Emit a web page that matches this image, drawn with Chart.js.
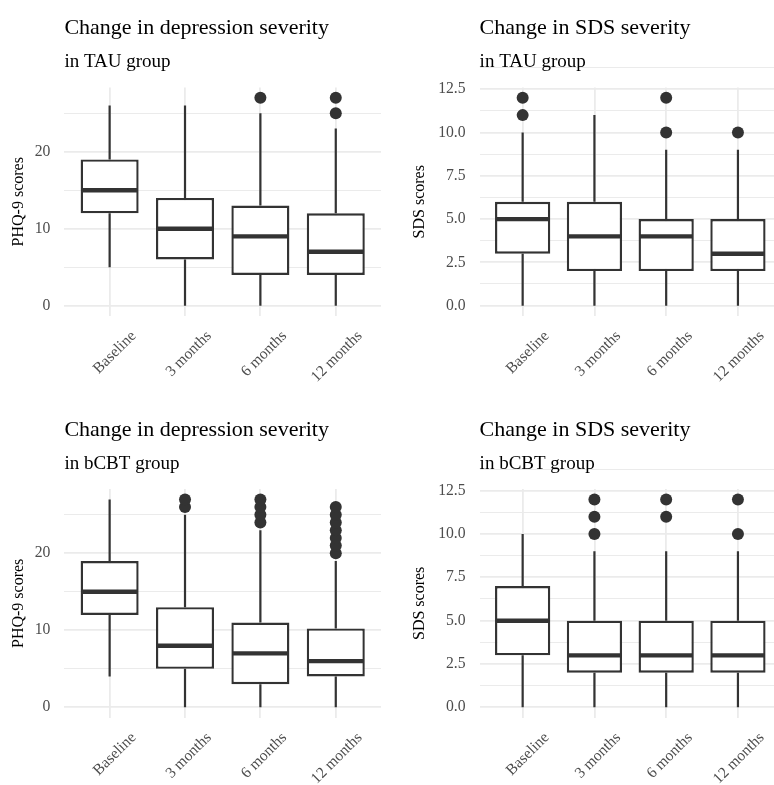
<!DOCTYPE html>
<html>
<head>
<meta charset="utf-8">
<script src="https://cdn.jsdelivr.net/npm/chart.js@4.4.0/dist/chart.umd.min.js"></script>
<style>
  html, body { margin: 0; padding: 0; background: #fff; overflow: hidden; width: 774px; height: 785px; }
  canvas { position: absolute; }
</style>
</head>
<body>
<canvas id="phqTau" width="387" height="400" style="left:0;top:0"></canvas>
<canvas id="sdsTau" width="400" height="400" style="left:387px;top:0"></canvas>
<canvas id="phqCbt" width="387" height="385" style="left:0;top:400px"></canvas>
<canvas id="sdsCbt" width="400" height="385" style="left:387px;top:400px"></canvas>
<script>
const timepoints = ['Baseline', '3 months', '6 months', '12 months'];
const phqTicks = [0, 10, 20];
const sdsTicks = [0, 2.5, 5, 7.5, 10, 12.5];

// PHQ-9, TAU group
const phqTauLow = [5, 0, 0, 0];
const phqTauQ1 = [12, 6, 4, 4];
const phqTauMed = [15, 10, 9, 7];
const phqTauQ3 = [19, 14, 13, 12];
const phqTauHigh = [26, 26, 25, 23];
const phqTauOut = [[], [], [27], [25, 27]];

// SDS, TAU group
const sdsTauLow = [0, 0, 0, 0];
const sdsTauQ1 = [3, 2, 2, 2];
const sdsTauMed = [5, 4, 4, 3];
const sdsTauQ3 = [6, 6, 5, 5];
const sdsTauHigh = [10, 11, 9, 9];
const sdsTauOut = [[11, 12], [], [10, 12], [10]];

// PHQ-9, bCBT group
const phqCbtLow = [4, 0, 0, 0];
const phqCbtQ1 = [12, 5, 3, 4];
const phqCbtMed = [15, 8, 7, 6];
const phqCbtQ3 = [19, 13, 11, 10.25];
const phqCbtHigh = [27, 25, 23, 19];
const phqCbtOut = [[], [26, 27], [24, 25, 26, 27], [20, 21, 22, 23, 24, 25, 26]];

// SDS, bCBT group
const sdsCbtLow = [0, 0, 0, 0];
const sdsCbtQ1 = [3, 2, 2, 2];
const sdsCbtMed = [5, 3, 3, 3];
const sdsCbtQ3 = [7, 5, 5, 5];
const sdsCbtHigh = [10, 9, 9, 9];
const sdsCbtOut = [[], [10, 11, 12], [11, 12], [10, 12]];

const serif = "'Liberation Serif', 'Times New Roman', serif";
const ink = '#333333';
const gridColor = '#ebebeb';
Chart.defaults.font.family = serif;

// whiskers, medians and the two-line heading
const boxExtras = {
    id: 'boxExtras',
    beforeDatasetsDraw(chart) {
        const st = chart.data.datasets[0].stats;
        const {ctx, scales: {x, y}} = chart;
        ctx.save();
        ctx.strokeStyle = ink;
        ctx.lineWidth = 2.2;
        st.low.forEach((lo, i) => {
            const px = x.getPixelForValue(i);
            ctx.beginPath();
            ctx.moveTo(px, y.getPixelForValue(st.high[i]));
            ctx.lineTo(px, y.getPixelForValue(st.q3[i]));
            ctx.moveTo(px, y.getPixelForValue(st.q1[i]));
            ctx.lineTo(px, y.getPixelForValue(lo));
            ctx.stroke();
        });
        ctx.restore();
    },
    afterDatasetsDraw(chart) {
        const st = chart.data.datasets[0].stats;
        const {ctx, scales: {y}} = chart;
        ctx.save();
        ctx.strokeStyle = ink;
        ctx.lineWidth = 4.4;
        chart.getDatasetMeta(0).data.forEach((bar, i) => {
            const ym = y.getPixelForValue(st.med[i]);
            ctx.beginPath();
            ctx.moveTo(bar.x - bar.width / 2 + 1, ym);
            ctx.lineTo(bar.x + bar.width / 2 - 1, ym);
            ctx.stroke();
        });
        ctx.restore();
    },
    afterDraw(chart) {
        const st = chart.data.datasets[0].stats;
        const {ctx, chartArea} = chart;
        ctx.save();
        ctx.fillStyle = '#000';
        ctx.textAlign = 'left';
        ctx.textBaseline = 'alphabetic';
        ctx.font = '22px ' + serif;
        ctx.fillText(st.title, chartArea.left, chartArea.top - 53);
        ctx.font = '19px ' + serif;
        ctx.fillText(st.subtitle, chartArea.left, chartArea.top - 20);
        ctx.restore();
    }
};

function makePanel(id, p) {
    const step = p.ticks[1] - p.ticks[0];
    const minors = p.ticks.map(v => v + step / 2);
    const allTicks = p.ticks.concat(minors).sort((a, b) => a - b);
    const allVals = p.low.concat(p.high, ...p.out);
    const lo = Math.min(...allVals), hi = Math.max(...allVals);
    const pad = (hi - lo) * 0.05;

    new Chart(document.getElementById(id).getContext('2d'), {
        type: 'bar',
        data: {
            datasets: [{
                data: p.q1.map((v, i) => ({x: i, y: [v, p.q3[i]]})),
                backgroundColor: '#ffffff',
                borderColor: ink,
                borderWidth: 2.4,
                borderSkipped: false,
                barPercentage: 0.77,
                categoryPercentage: 1,
                stats: {low: p.low, q1: p.q1, med: p.med, q3: p.q3, high: p.high,
                        title: p.title, subtitle: p.subtitle}
            }, {
                type: 'scatter',
                data: p.out.flatMap((arr, i) => arr.map(v => ({x: i, y: v}))),
                backgroundColor: ink,
                borderWidth: 0,
                pointRadius: 6,
                pointHoverRadius: 6
            }]
        },
        options: {
            responsive: false,
            animation: false,
            events: [],
            layout: {padding: {top: p.padTop, right: p.padRight, left: 0, bottom: 0}},
            plugins: {legend: {display: false}, tooltip: {enabled: false}},
            scales: {
                x: {
                    type: 'linear',
                    min: -0.6,
                    max: timepoints.length - 0.4,
                    offset: false,
                    afterBuildTicks: s => { s.ticks = timepoints.map((_, i) => ({value: i})); },
                    afterFit: s => { s.height = p.xAxisH; },
                    ticks: {
                        autoSkip: false,
                        minRotation: 45,
                        maxRotation: 45,
                        padding: 11,
                        labelOffset: 24,
                        color: '#4d4d4d',
                        font: {size: 15.5},
                        callback: v => timepoints[v]
                    },
                    grid: {offset: false, drawTicks: false, color: gridColor, lineWidth: 1.8},
                    border: {display: false}
                },
                y: {
                    min: lo - pad,
                    max: hi + pad,
                    afterBuildTicks: s => { s.ticks = allTicks.map(v => ({value: v})); },
                    afterFit: s => { s.width = p.axisW; },
                    ticks: {
                        autoSkip: false,
                        padding: 14,
                        color: '#4d4d4d',
                        font: {size: 15.7},
                        callback: v => p.ticks.includes(v) ? v.toFixed(p.decimals) : ''
                    },
                    grid: {
                        drawTicks: false,
                        color: gridColor,
                        lineWidth: c => p.ticks.includes(c.tick.value) ? 1.8 : 1.1
                    },
                    border: {display: false},
                    title: {
                        display: true,
                        text: p.yTitle,
                        color: '#000',
                        font: {size: 16},
                        padding: {top: p.yTitlePad, bottom: 0}
                    }
                }
            }
        },
        plugins: [boxExtras]
    });
}

makePanel('phqTau', {
    title: 'Change in depression severity', subtitle: 'in TAU group', yTitle: 'PHQ-9 scores',
    ticks: phqTicks, decimals: 0,
    low: phqTauLow, q1: phqTauQ1, med: phqTauMed, q3: phqTauQ3, high: phqTauHigh, out: phqTauOut,
    padTop: 87.4, padRight: 3.4, axisW: 64.4, xAxisH: 83.9, yTitlePad: 9
});
makePanel('sdsTau', {
    title: 'Change in SDS severity', subtitle: 'in TAU group', yTitle: 'SDS scores',
    ticks: sdsTicks, decimals: 1,
    low: sdsTauLow, q1: sdsTauQ1, med: sdsTauMed, q3: sdsTauQ3, high: sdsTauHigh, out: sdsTauOut,
    padTop: 87.4, padRight: 1.6, axisW: 92.6, xAxisH: 83.9, yTitlePad: 23
});
makePanel('phqCbt', {
    title: 'Change in depression severity', subtitle: 'in bCBT group', yTitle: 'PHQ-9 scores',
    ticks: phqTicks, decimals: 0,
    low: phqCbtLow, q1: phqCbtQ1, med: phqCbtMed, q3: phqCbtQ3, high: phqCbtHigh, out: phqCbtOut,
    padTop: 89, padRight: 3.4, axisW: 64.4, xAxisH: 67.3, yTitlePad: 9
});
makePanel('sdsCbt', {
    title: 'Change in SDS severity', subtitle: 'in bCBT group', yTitle: 'SDS scores',
    ticks: sdsTicks, decimals: 1,
    low: sdsCbtLow, q1: sdsCbtQ1, med: sdsCbtMed, q3: sdsCbtQ3, high: sdsCbtHigh, out: sdsCbtOut,
    padTop: 89, padRight: 1.6, axisW: 92.6, xAxisH: 67.3, yTitlePad: 23
});
</script>
</body>
</html>
